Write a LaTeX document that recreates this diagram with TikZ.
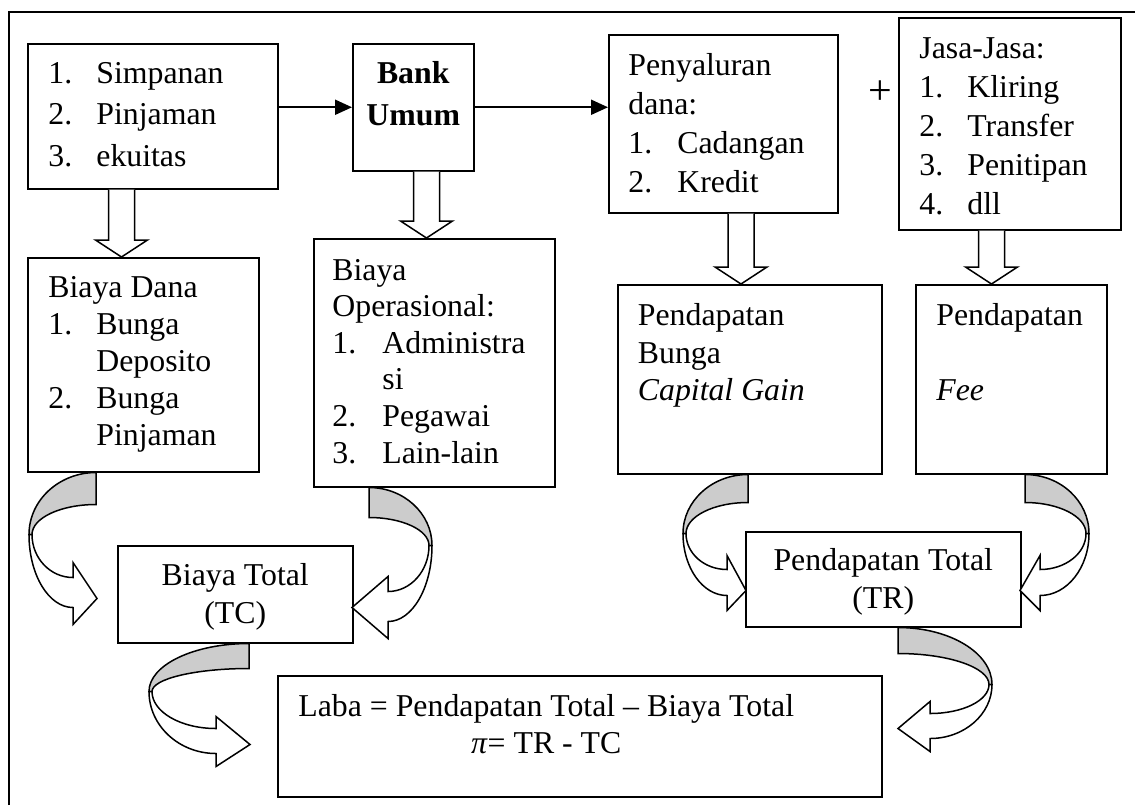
\documentclass[tikz,border=0pt]{standalone}
\usepackage{fontspec}
\setmainfont{Liberation Serif}
\usetikzlibrary{arrows.meta,calc}
\definecolor{bandgrey}{RGB}{204,204,204}
% numbered item: number in a fixed-width slot
\newcommand{\itm}[2][24pt]{\makebox[#1][l]{#2}}
% hollow block arrow pointing down: start anchor, x offset, target anchor
\newcommand{\blkdown}[3]{%
  \coordinate (bs) at ($(#1)+(#2,0)$);
  \coordinate (bt) at (bs |- #3);
  \draw[blk] ($(bs)+(-13,0)$) -- ($(bt)+(-13,-17)$) -- ($(bt)+(-26,-17)$) -- (bt)
    -- ($(bt)+(26,-17)$) -- ($(bt)+(13,-17)$) -- ($(bs)+(13,0)$);}
% curved arrow (back band grey, front band white), local frame at attach point
% #1 width #2 y of turn #3 band #4 head x #5,#6 shaft #7,#8 wings #9 tip
\newcommand{\curvarr}[9]{%
  \filldraw[backband] (0,0) .. controls ({-0.552*#1},0) and (-#1,{0.448*#2}) .. (-#1,#2)
    -- ({3-#1},#2) .. controls ({3-#1},{#3+0.448*(#2-#3)}) and ({-0.552*(#1-3)},#3) .. (0,#3) -- cycle;
  \filldraw[frontband] (-#1,#2) .. controls (-#1,{#2+0.552*(#6-#2)}) and ({#4-0.552*(#4+#1)},#6) .. (#4,#6)
    -- (#4,#8) -- (#9) -- (#4,#7) -- (#4,#5)
    .. controls ({#4-0.552*(#4+#1-3)},#5) and ({3-#1},{#2+0.552*(#5-#2)}) .. ({3-#1},#2) -- cycle;}
\begin{document}
\begin{tikzpicture}[x=0.5pt,y=0.5pt,yscale=-1,xscale=1,
  box/.style={draw, line width=0.75pt, anchor=north west, inner sep=0pt},
  txt/.style={anchor=base west, inner sep=0pt, font=\fontsize{15.9}{18.5}\selectfont},
  ctxt/.style={txt, anchor=base},
  flow/.style={line width=1pt, -{Triangle[length=8.5pt,width=7.5pt]}},
  blk/.style={draw, fill=white, line width=0.75pt},
  backband/.style={draw, fill=bandgrey, line width=0.75pt},
  frontband/.style={draw, fill=white, line width=0.75pt}]
\useasboundingbox (0,0) rectangle (1135,805);

%Frame
\draw[line width=1pt] (9,805) -- (9,12) -- (1135,12);

%Top row
\node[box, minimum width=125pt, minimum height=72.5pt] (src) at (27,43) {};
\node[txt, font=\fontsize{15.9}{20.75}\selectfont] (srct) at ($(src.north west)+(21,40)$)
  {\begin{tabular}[t]{@{}l@{}}\itm{1.}Simpanan\\ \itm{2.}Pinjaman\\ \itm{3.}ekuitas\end{tabular}};
\node[box, minimum width=60.5pt, minimum height=63.5pt] (bank) at (352,43) {};
\node[ctxt, font=\fontsize{15.9}{21}\selectfont] (bankt) at ($(bank.north)+(0,40)$)
  {\begin{tabular}[t]{@{}c@{}}\textbf{Bank}\\ \textbf{Umum}\end{tabular}};
\node[box, minimum width=114.5pt, minimum height=89pt] (pen) at (608,34) {};
\node[txt, font=\fontsize{15.9}{19.5}\selectfont] (pent) at ($(pen.north west)+(20,41)$)
  {\begin{tabular}[t]{@{}l@{}}Penyaluran\\ dana:\\ \itm[24.5pt]{1.}Cadangan\\ \itm[24.5pt]{2.}Kredit\end{tabular}};
\node[inner sep=0pt, font=\fontsize{21}{24}\selectfont] (plus) at (880,93) {+};
\node[box, minimum width=111pt, minimum height=106pt] (jasa) at (898,17) {};
\node[txt, font=\fontsize{15.9}{19.5}\selectfont] (jasat) at ($(jasa.north west)+(21,41)$)
  {\begin{tabular}[t]{@{}l@{}}Jasa-Jasa:\\ \itm{1.}Kliring\\ \itm{2.}Transfer\\ \itm{3.}Penitipan\\ \itm{4.}dll\end{tabular}};

%Middle row
\node[box, minimum width=115.5pt, minimum height=107pt] (bd) at (27,257) {};
\node[txt] (bdt) at ($(bd.north west)+(21,40)$)
  {\begin{tabular}[t]{@{}l@{}}Biaya Dana\\ \itm{1.}Bunga\\ \itm{}Deposito\\ \itm{2.}Bunga\\ \itm{}Pinjaman\end{tabular}};
\node[box, minimum width=120.5pt, minimum height=124pt] (bo) at (313,238) {};
\node[txt, font=\fontsize{15.9}{18.3}\selectfont] (bot) at ($(bo.north west)+(19,42)$)
  {\begin{tabular}[t]{@{}l@{}}Biaya\\ Operasional:\\ \itm[25pt]{1.}Administra\\ \itm[25pt]{}si\\ \itm[25pt]{2.}Pegawai\\ \itm[25pt]{3.}Lain-lain\end{tabular}};
\node[box, minimum width=132pt, minimum height=94.5pt] (pb) at (617,284) {};
\node[txt, font=\fontsize{15.9}{18.75}\selectfont] (pbt) at ($(pb.north west)+(20.5,41.6)$)
  {\begin{tabular}[t]{@{}l@{}}Pendapatan\\ Bunga\\ \textit{Capital Gain}\end{tabular}};
\node[box, minimum width=95.5pt, minimum height=94.5pt] (fee) at (915,284) {};
\node[txt, font=\fontsize{15.9}{18.75}\selectfont] (feet) at ($(fee.north west)+(21,41.6)$)
  {\begin{tabular}[t]{@{}l@{}}Pendapatan\\ \\ \textit{Fee}\end{tabular}};

%Totals
\node[box, minimum width=117.5pt, minimum height=48.5pt] (tc) at (117,545) {};
\node[ctxt, font=\fontsize{15.9}{19}\selectfont] (tct) at ($(tc.north)+(0,40)$)
  {\begin{tabular}[t]{@{}c@{}}Biaya Total\\ (TC)\end{tabular}};
\node[box, minimum width=137.5pt, minimum height=47.5pt] (tr) at (745,531) {};
\node[ctxt, font=\fontsize{15.9}{19}\selectfont] (trt) at ($(tr.north)+(0,39)$)
  {\begin{tabular}[t]{@{}c@{}}Pendapatan Total\\ (TR)\end{tabular}};
\node[box, minimum width=302pt, minimum height=60.5pt] (laba) at (277,675) {};
\node[txt] (labat) at ($(laba.north west)+(21,41)$)
  {\begin{tabular}[t]{@{}c@{}}Laba = Pendapatan Total -- Biaya Total\\ \textit{π}= TR - TC\end{tabular}};

%Straight arrows
\draw[flow] (src.east |- bank.west) -- (bank.west);
\draw[flow] (bank.east) -- (bank.east -| pen.west);

%Block arrows
\blkdown{src.south west}{94.5}{bd.north}
\blkdown{bank.south west}{74.5}{bo.north}
\blkdown{pen.south west}{133}{pb.north}
\blkdown{jasa.south west}{93.5}{fee.north}

%Curved arrows
% Biaya Dana -> Biaya Total
\begin{scope}[shift={($(bd.south west)+(69,0)$)}]
  \curvarr{67}{62}{32}{-23}{105}{135}{90}{152}{1,126}
\end{scope}
% Biaya Operasional -> Biaya Total
\begin{scope}[shift={($(bo.south west)+(56,0)$)}, xscale=-1]
  \curvarr{63}{58}{30}{-19}{104}{134}{89}{151}{17,120}
\end{scope}
% Biaya Total -> Laba
\begin{scope}[shift={($(tc.south west)+(132,0)$)}]
  \curvarr{100}{48}{25}{-33}{85}{110}{73}{123}{1,101}
\end{scope}
% Pendapatan Bunga -> Pendapatan Total
\begin{scope}[shift={($(pb.south west)+(131,0)$)}]
  \curvarr{65}{59}{28}{-21}{95}{121}{81}{136}{-2,116}
\end{scope}
% Fee -> Pendapatan Total
\begin{scope}[shift={($(fee.south west)+(110,0)$)}, xscale=-1]
  \curvarr{64}{59}{28}{-15}{95}{121}{81}{136}{5,116}
\end{scope}
% Pendapatan Total -> Laba
\begin{scope}[shift={($(tr.south west)+(153,0)$)}, xscale=-1]
  \curvarr{94}{57}{26}{-32}{86}{111}{74}{124}{0,101}
\end{scope}
\end{tikzpicture}
\end{document}
